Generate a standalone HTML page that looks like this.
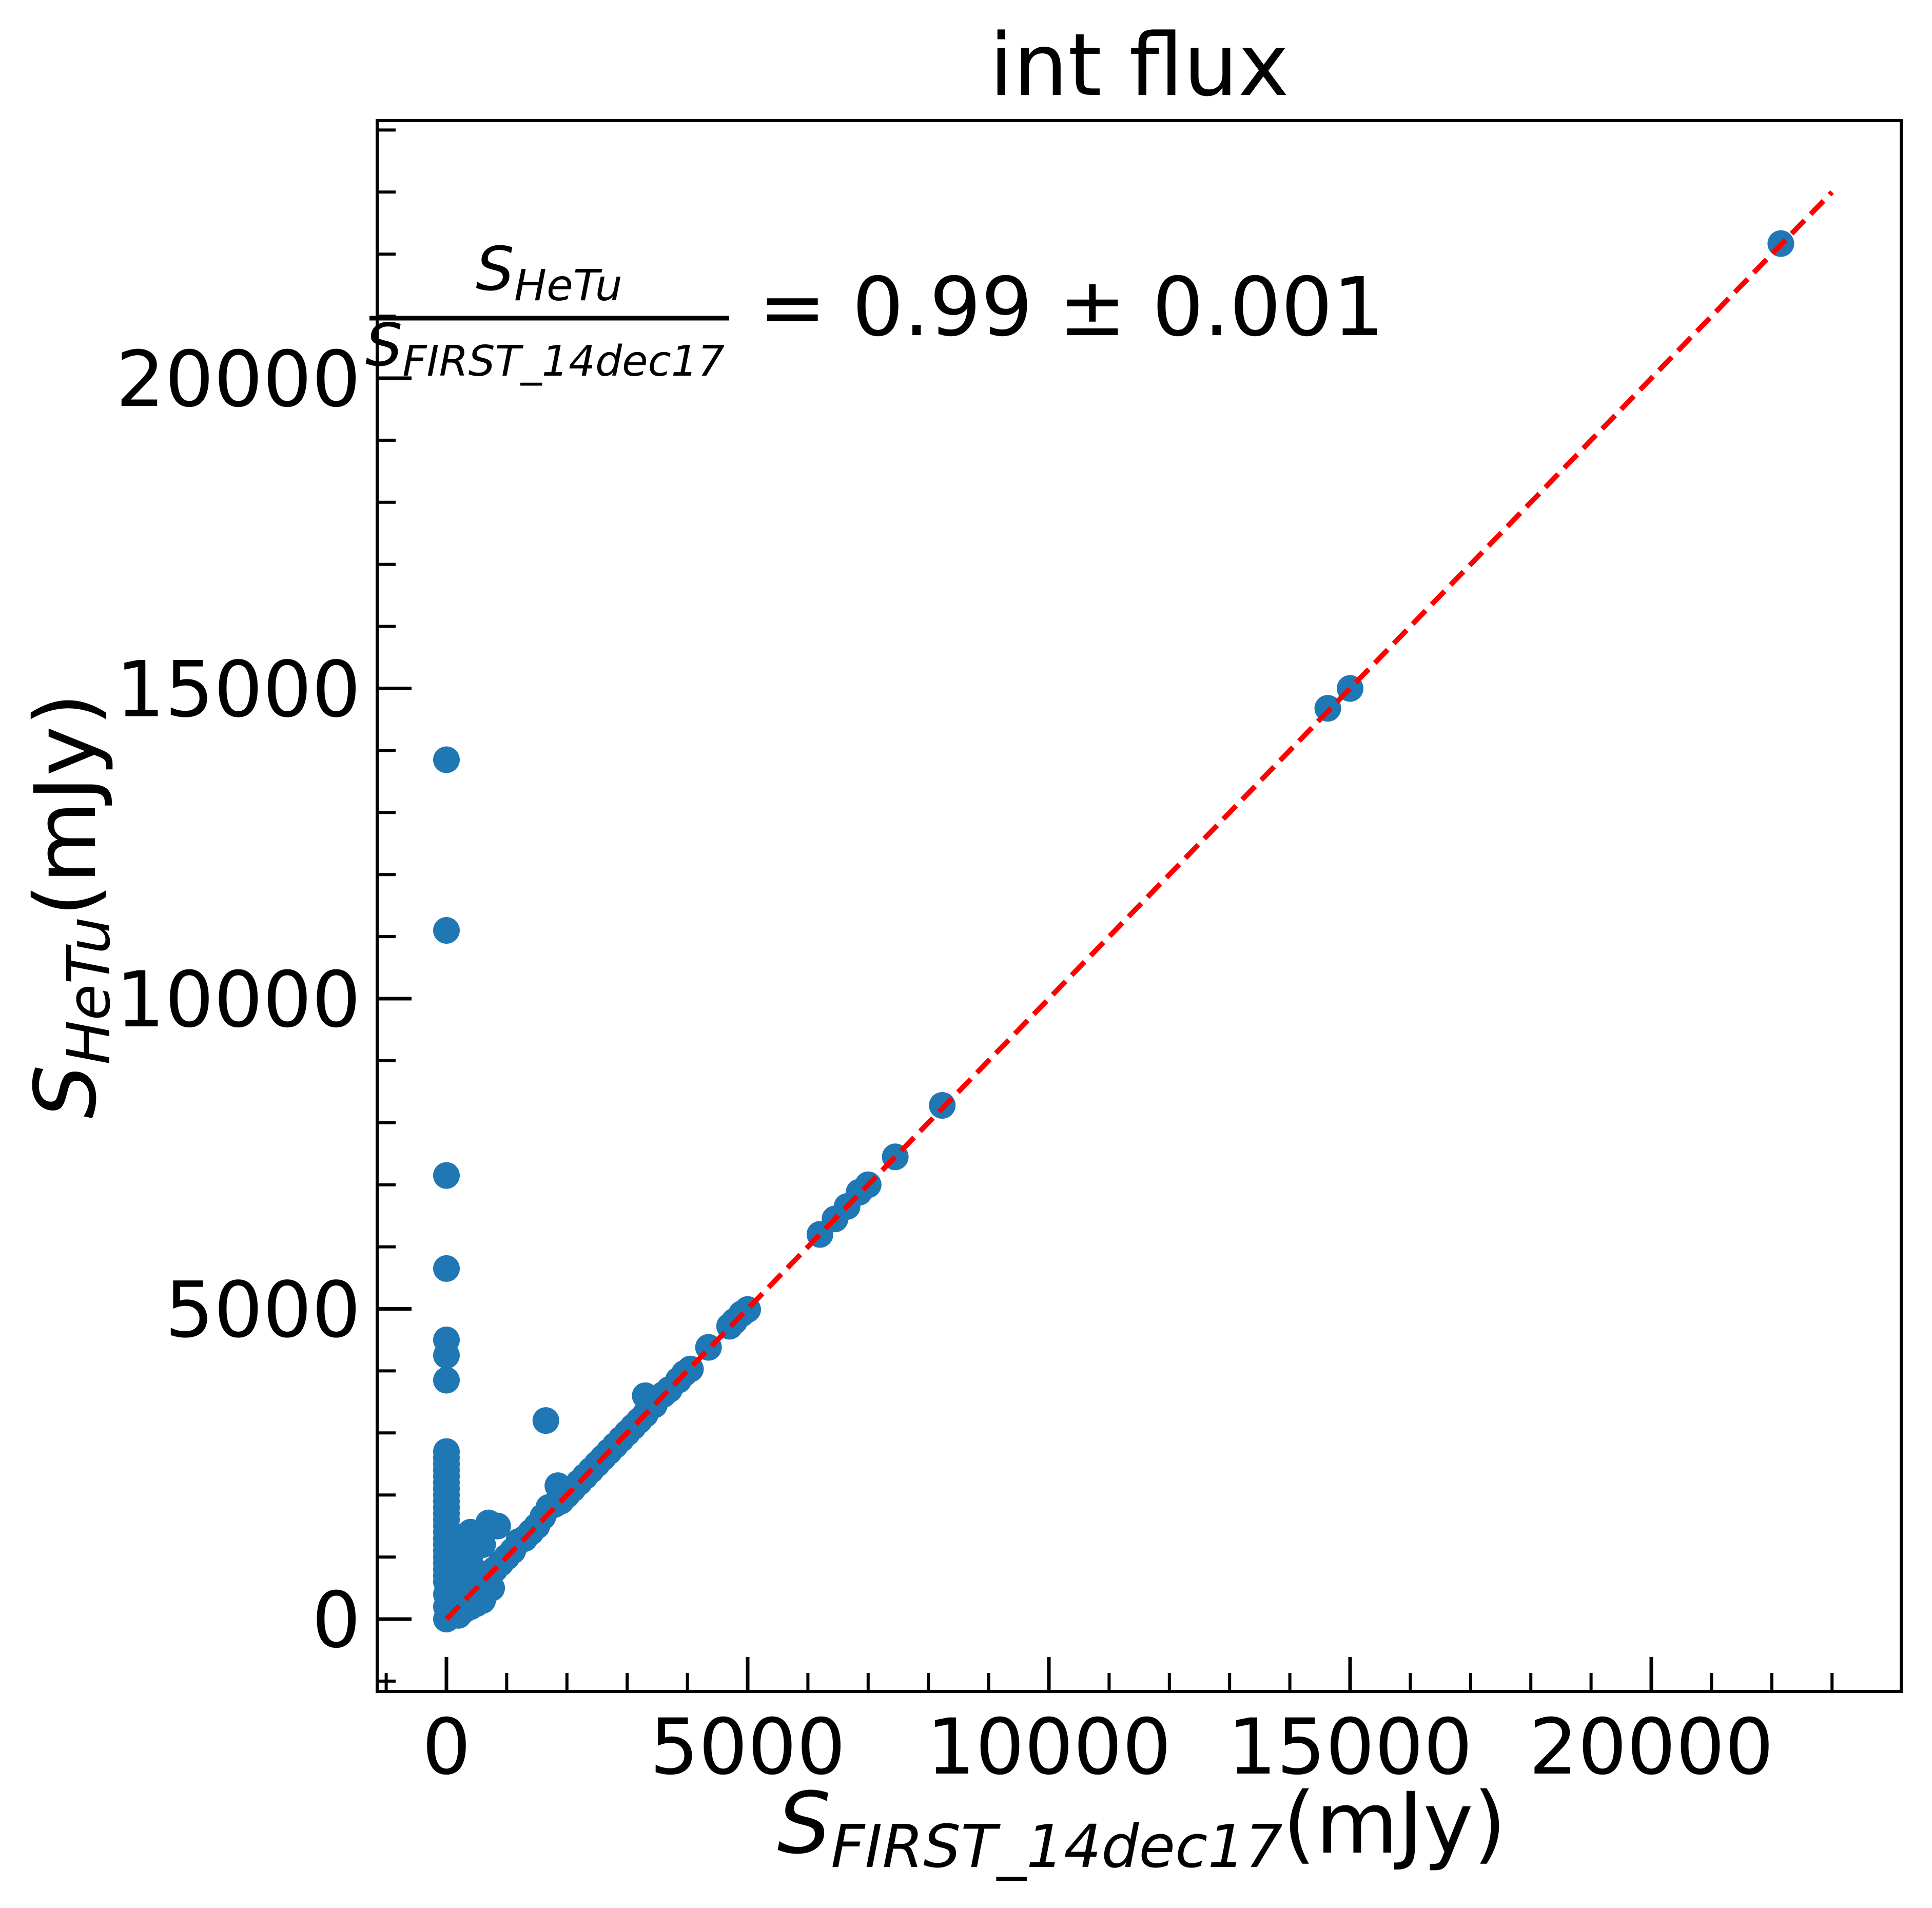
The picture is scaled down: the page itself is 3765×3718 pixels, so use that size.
<!DOCTYPE html>
<html><head><meta charset="utf-8"><style>
html,body{margin:0;padding:0;background:#fff;}
svg{display:block;font-family:"DejaVu Sans","Liberation Sans",sans-serif;}
</style></head><body>
<svg id="chart" width="3765" height="3718" viewBox="0 0 3765 3718" xmlns="http://www.w3.org/2000/svg">
<rect width="3765" height="3718" fill="#fff"/>
<text x="2220" y="185" font-size="168" text-anchor="middle">int flux</text>
<g id="plot"></g>
<g id="axes"></g>
<text x="1070" y="565" font-size="118" text-anchor="middle"><tspan font-style="italic">S</tspan><tspan font-style="italic" font-size="84" dy="20">HeTu</tspan></text>
<line x1="720" y1="620" x2="1421" y2="620" stroke="#000" stroke-width="9"/>
<text x="1062" y="712" font-size="114" text-anchor="middle"><tspan font-style="italic">S</tspan><tspan font-style="italic" font-size="82" dy="20">FIRST_14dec17</tspan></text>
<text x="1478" y="653" font-size="158">= 0.99 ± 0.001</text>
<text x="2225" y="3610" font-size="165" text-anchor="middle"><tspan font-style="italic">S</tspan><tspan font-style="italic" font-size="115" dy="28">FIRST_14dec17</tspan><tspan dy="-28">(mJy)</tspan></text>
<text transform="translate(185,1765) rotate(-90)" font-size="165" text-anchor="middle"><tspan font-style="italic">S</tspan><tspan font-style="italic" font-size="115" dy="28">HeTu</tspan><tspan dy="-28">(mJy)</tspan></text>
</svg>
<script>
const xMajorTicks=[0,5000,10000,15000,20000];
const yMajorTicks=[0,5000,10000,15000,20000];
const xMinorTicks=[-1000,1000,2000,3000,4000,6000,7000,8000,9000,11000,12000,13000,14000,16000,17000,18000,19000,21000,22000,23000];
const yMinorTicks=[-1000,1000,2000,3000,4000,6000,7000,8000,9000,11000,12000,13000,14000,16000,17000,18000,19000,21000,22000,23000,24000];
const fluxFirst=[22150,15000,14630,8230,7450,7000,6850,6650,6450,6200,5000,4900,4780,4700,4350,4050,3950,3850,3700,3600,3450,3300,3300,3200,3100,3000,2900,2800,2700,2600,2500,2400,2300,2200,2100,2000,1900,1800,1700,1600,1500,1400,1300,1200,1100,1000,900,800,700,600,500,400,300,200,100,1650,1850,700,850,400,500,600,300,200,350,450,550,650,750,250,150,100,50,
0,0,0,0,0,0,0,0,0,0,0,0,0,0,0,0,0,0,0,0,0,0,0,0,0,0,0,0,0,0,0,0,
100,150,200,250,300,350,400,100,150,200,250,300,350,100,150,200,250,300,100,150,200,250,100,150,200,700,400,300,500,600];
const fluxHetu=[22170,15000,14680,8280,7450,7000,6880,6650,6450,6200,4990,4920,4800,4720,4380,4030,3960,3850,3700,3620,3450,3300,3600,3200,3100,3000,2900,2800,2700,2600,2500,2400,2300,2200,2100,2000,1900,1850,1800,1650,1500,1400,1300,1250,1100,1000,900,800,720,650,500,400,300,200,100,3200,2150,1550,1500,1400,1300,1200,1100,1000,900,800,700,600,500,400,300,200,100,
13850,11100,7150,5650,4500,4250,3850,2700,2600,2500,2400,2300,2200,2100,2000,1900,1800,1700,1600,1500,1400,1300,1200,1100,1000,900,800,700,600,400,200,0,
1200,1100,1000,1250,1300,1150,1050,900,800,850,750,700,650,600,500,550,450,400,300,250,200,150,100,80,60,500,200,150,250,300];
const fitX=[0,23000];
const fitSlope=1.0;
const X0=870,XS=117.4/1000,Y0=3155,YS=120.9/1000;
const L=735,R=3705,T=235,B=3296;
function sx(v){return X0+v*XS;}
function sy(v){return Y0-v*YS;}
const NS="http://www.w3.org/2000/svg";
const plot=document.getElementById('plot');
const axes=document.getElementById('axes');
function mk(tag,attrs,parent){const e=document.createElementNS(NS,tag);for(const k in attrs)e.setAttribute(k,attrs[k]);parent.appendChild(e);return e;}
for(let i=0;i<fluxFirst.length;i++){
  const c=mk('circle',{cx:sx(fluxFirst[i]),cy:sy(fluxHetu[i]),r:26,fill:'#1f77b4'},plot);
  
  
}
const fl=mk('line',{x1:sx(fitX[0]),y1:sy(fitX[0]*fitSlope),x2:sx(fitX[1]),y2:sy(fitX[1]*fitSlope),stroke:'#ff0000','stroke-width':10,'stroke-dasharray':'36 17'},plot);


const fr=mk('rect',{x:L,y:T,width:R-L,height:B-T,fill:'none',stroke:'#000','stroke-width':6},axes);


xMajorTicks.forEach(v=>{
  const t=mk('line',{x1:sx(v),x2:sx(v),y1:B,y2:B-67,stroke:'#000','stroke-width':7},axes);
  
  
  const lb=mk('text',{x:sx(v),y:B+160,'font-size':150,'text-anchor':'middle'},axes);
  lb.textContent=String(v);
  
  
});
xMinorTicks.forEach(v=>{
  const t=mk('line',{x1:sx(v),x2:sx(v),y1:B,y2:B-36,stroke:'#000','stroke-width':6},axes);
  
  
});
yMajorTicks.forEach(v=>{
  const t=mk('line',{x1:L,x2:L+67,y1:sy(v),y2:sy(v),stroke:'#000','stroke-width':7},axes);
  
  
  const lb=mk('text',{x:L-32,y:sy(v)+54,'font-size':150,'text-anchor':'end'},axes);
  lb.textContent=String(v);
  
  
});
yMinorTicks.forEach(v=>{
  const t=mk('line',{x1:L,x2:L+36,y1:sy(v),y2:sy(v),stroke:'#000','stroke-width':6},axes);
  
  
});
</script>
</body></html>
